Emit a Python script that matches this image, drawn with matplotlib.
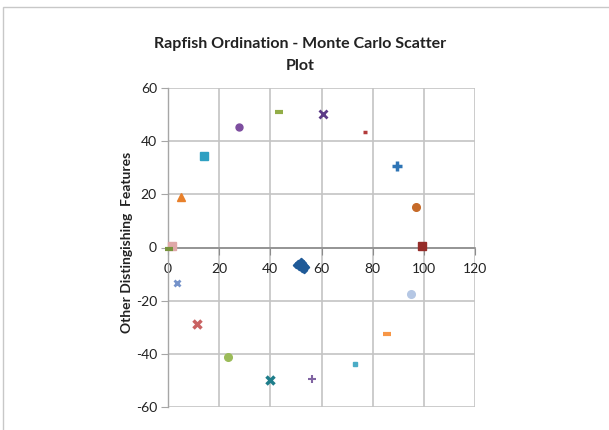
import matplotlib
matplotlib.use("Agg")
import matplotlib.pyplot as plt
from matplotlib.patches import Rectangle

plt.rcParams['font.family'] = ['Lato', 'DejaVu Sans']

# ---- data ----
point_x = [43.5, 60.7, 27.9, 14.1, 5.1, 1.4, 0.5, 77.1, 89.6, 97.0, 99.4,
           3.6, 11.3, 23.5, 39.9, 56.3, 73.1, 85.6, 95.1]
point_y = [50.9, 50.2, 45.2, 34.4, 18.9, 0.7, -0.7, 43.3, 30.7, 15.1, 0.6,
           -13.5, -28.9, -41.2, -50.0, -49.5, -43.8, -32.7, -17.6]
cluster_x = [50.2, 51.0, 51.8, 52.6, 53.4, 51.4, 52.2, 53.0, 51.9, 52.6, 53.9]
cluster_y = [-6.6, -5.8, -5.2, -6.0, -6.9, -7.2, -7.9, -8.3, -6.6, -6.9, -7.3]
x_ticks = [0, 20, 40, 60, 80, 100, 120]
y_ticks = [-60, -40, -20, 0, 20, 40, 60]
title = "Rapfish Ordination - Monte Carlo Scatter\nPlot"
y_label = "Other Distingishing  Features"

# ---- styles ----
styles = [
    ('_', '#92AD47', 6, 3),
    ('x', '#5B3A86', 6, 2),
    ('o', '#7D4E9F', 5, 1),
    ('s', '#2FA0C2', 6.3, 1),
    ('^', '#E8802A', 5.5, 1),
    ('s', '#DFA8A8', 5.5, 1),
    ('_', '#77933C', 6, 3),
    ('_', '#B23B3B', 3, 2.5),
    ('+', '#2E74B5', 7, 2.5),
    ('o', '#C66A28', 5.5, 1),
    ('s', '#952C29', 5.3, 1),
    ('x', '#7593CA', 5, 2),
    ('x', '#C96262', 5.5, 2.5),
    ('o', '#9BBB59', 5.5, 1),
    ('x', '#1E7D8A', 6, 2.5),
    ('+', '#8064A2', 6, 1.5),
    ('s', '#4BACC6', 2.8, 1),
    ('_', '#F79646', 6, 3),
    ('o', '#B5C7E4', 5.5, 1),
]

fig = plt.figure(figsize=(6.09, 4.30), dpi=100)
fig.patch.set_facecolor('white')

# outer chart border
fig.add_artist(Rectangle((3 / 609, -0.1), 1.2, (430 - 7) / 430 + 0.1,
                         transform=fig.transFigure, fill=False,
                         edgecolor='#C8C8C8', linewidth=1.0))

ax = fig.add_axes([168 / 609, 23 / 430, (475 - 168) / 609, (407 - 88) / 430])
ax.set_xlim(0, 120)
ax.set_ylim(-60, 60)

for s in ['top', 'right']:
    ax.spines[s].set_visible(False)
ax.spines['left'].set_color('#A6A6A6')
ax.spines['left'].set_linewidth(1.0)
ax.spines['bottom'].set_position(('data', 0))
ax.spines['bottom'].set_color('#8C8C8C')
ax.spines['bottom'].set_linewidth(1.2)

ax.set_xticks(x_ticks)
ax.set_yticks(y_ticks)
ax.set_xticklabels([str(v) for v in x_ticks])
ax.set_yticklabels([str(v) for v in y_ticks])
ax.tick_params(axis='x', direction='out', length=5, color='#8C8C8C',
               labelsize=10, labelcolor='#222222', pad=6)
ax.tick_params(axis='y', direction='out', length=5, color='#A6A6A6',
               labelsize=10, labelcolor='#222222', pad=3)

ax.grid(True, color='#C4C4C4', linewidth=1.2)
ax.set_axisbelow(True)

for xv, yv, (m, c, ms, mew) in zip(point_x, point_y, styles):
    if m in ('x', '+', '_'):
        ax.plot([xv], [yv], linestyle='none', marker=m, color=c,
                markersize=ms, markeredgewidth=mew, clip_on=False, zorder=3)
    else:
        ax.plot([xv], [yv], linestyle='none', marker=m, color=c,
                markeredgecolor=c, markersize=ms, markeredgewidth=mew,
                clip_on=False, zorder=3)

ax.plot(cluster_x, cluster_y, linestyle='none', marker='D', color='#1F5A98',
        markeredgecolor='#1F5A98', markersize=3.2, zorder=4)

fig.text(300 / 609, 1 - 55 / 430, title, ha='center', va='center',
         fontsize=11.5, fontweight='bold', color='#222222', linespacing=1.75)
fig.text(127 / 609, 1 - 242 / 430, y_label, rotation=90, ha='center',
         va='center', fontsize=10, fontweight='bold', color='#222222')

fig.savefig('out.png', dpi=100, facecolor='white')
